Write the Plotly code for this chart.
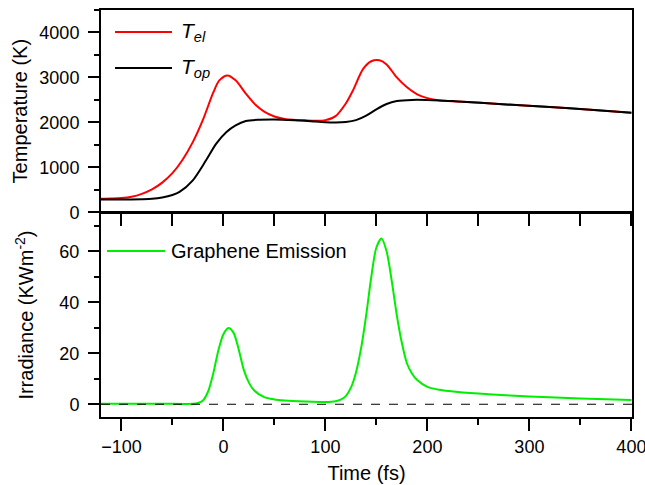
import plotly.graph_objects as go
from plotly.subplots import make_subplots

# ---- data ----
t_el = [-120, -110, -100, -90, -80, -70, -60, -50, -40, -30, -20, -10, -4, 4, 12, 22, 32,
        40, 50, 60, 70, 80, 90, 100, 110, 120, 127, 137, 145, 153, 160, 170, 180, 190, 200,
        212, 230, 270, 320, 360, 400]
T_el = [300, 305, 315, 345, 410, 510, 660, 870, 1170, 1560, 2060, 2660, 2933, 3045, 2935,
        2640, 2380, 2240, 2130, 2075, 2055, 2045, 2037, 2050, 2140, 2420, 2710, 3190, 3360,
        3380, 3290, 3000, 2780, 2625, 2540, 2489, 2465, 2410, 2340, 2280, 2215]

t_op = [-120, -100, -80, -70, -60, -50, -43, -30, -17, -7, 3, 12, 22, 35, 50, 70, 80, 90,
        100, 110, 120, 130, 140, 150, 160, 170, 185, 212, 230, 270, 320, 360, 400]
T_op = [282, 283, 290, 300, 330, 385, 452, 711, 1156, 1526, 1785, 1933, 2030, 2059, 2065,
        2050, 2038, 2020, 2005, 2000, 2010, 2050, 2150, 2290, 2410, 2475, 2500, 2489, 2465,
        2410, 2340, 2280, 2215]

t_em = [-120, -60, -30, -25, -20, -15, -10, -5, 0, 5, 10, 15, 20, 25, 30, 40, 50, 60, 80,
        100, 110, 115, 120, 125, 130, 135, 140, 145, 150, 155, 160, 165, 170, 175, 180, 185,
        190, 200, 210, 230, 260, 300, 350, 400]
G_em = [0.2, 0.2, 0.2, 0.5, 1.5, 5.0, 12.0, 21.0, 27.5, 29.9, 28.0, 21.5, 13.5, 8.5, 5.5,
        2.8, 1.9, 1.5, 1.1, 0.9, 1.2, 1.8, 3.2, 6.5, 12.5, 22.0, 35.0, 50.0, 61.5, 65.0, 60.0,
        48.5, 35.0, 24.0, 16.0, 12.0, 9.5, 6.8, 5.8, 4.8, 3.9, 3.0, 2.3, 1.7]

x_ticks = [-100, 0, 100, 200, 300, 400]
temp_ticks = [0, 1000, 2000, 3000, 4000]
irr_ticks = [0, 20, 40, 60]

FONT = "Arial, Liberation Sans, Helvetica, sans-serif"

fig = make_subplots(rows=2, cols=1, shared_xaxes=True, vertical_spacing=0.0)

fig.add_trace(go.Scatter(x=t_el, y=T_el, mode="lines", name="T_el",
                         line=dict(color="#ff0000", width=2, shape="spline", smoothing=0.8)),
              row=1, col=1)
fig.add_trace(go.Scatter(x=t_op, y=T_op, mode="lines", name="T_op",
                         line=dict(color="#000000", width=2, shape="spline", smoothing=0.8)),
              row=1, col=1)
fig.add_trace(go.Scatter(x=t_em, y=G_em, mode="lines", name="Graphene Emission",
                         line=dict(color="#00ee00", width=2, shape="spline", smoothing=0.8)),
              row=2, col=1)

axis_common = dict(showline=True, linecolor="black", linewidth=2, mirror=True,
                   showgrid=False, zeroline=False, ticks="outside", tickcolor="black",
                   tickwidth=2, automargin=False, ticklabeloverflow="allow",
                   tickfont=dict(family=FONT, size=18, color="black"))

fig.update_xaxes(**axis_common, range=[-120, 400.6], tickvals=x_ticks)
fig.update_xaxes(row=1, col=1, showticklabels=False, ticklen=12,
                 minor=dict(dtick=50, ticks="outside", ticklen=12, tickwidth=2, tickcolor="black"))
fig.update_xaxes(row=2, col=1, ticklen=12,
                 minor=dict(dtick=50, ticks="outside", ticklen=6, tickwidth=2, tickcolor="black"),
                 title=dict(text="Time (fs)", font=dict(family=FONT, size=20, color="black"),
                            standoff=10))

fig.update_yaxes(**axis_common)
fig.update_yaxes(row=1, col=1, range=[0, 4500], tickvals=temp_ticks, ticklen=11,
                 ticklabelstandoff=5,
                 minor=dict(dtick=500, ticks="outside", ticklen=5, tickwidth=2, tickcolor="black"),
                 domain=[0.503, 1.0],
                 title=dict(text="Temperature (K)", font=dict(family=FONT, size=20, color="black"),
                            standoff=6))
fig.update_yaxes(row=2, col=1, range=[-5, 75], tickvals=irr_ticks, ticklen=11,
                 ticklabelstandoff=5,
                 minor=dict(dtick=10, ticks="outside", ticklen=5, tickwidth=2, tickcolor="black"),
                 domain=[0.0, 0.501],
                 title=dict(text="Irradiance (KWm<sup>-2</sup>)",
                            font=dict(family=FONT, size=20, color="black"), standoff=20))

# dashed zero line in lower panel
fig.add_shape(type="line", xref="x2 domain", yref="y2", x0=0, x1=1, y0=0, y1=0,
              line=dict(color="black", width=1, dash="dash"))

# legend samples (drawn as shapes + text)
leg = [
    (0.0264, 0.1337, 0.946, "#ff0000", "<i>T</i><sub><i>el</i></sub>", 0.147, 21),
    (0.0264, 0.1337, 0.8575, "#000000", "<i>T</i><sub><i>op</i></sub>", 0.147, 21),
    (0.0113, 0.1205, 0.408, "#00ee00", "Graphene Emission", 0.128, 20),
]
for x0, x1, y, col, txt, tx, fs in leg:
    fig.add_shape(type="line", xref="paper", yref="paper", x0=x0, x1=x1, y0=y, y1=y,
                  line=dict(color=col, width=2))
    fig.add_annotation(xref="paper", yref="paper", x=tx, y=y, text=txt, showarrow=False,
                       xanchor="left", yanchor="middle",
                       font=dict(family=FONT, size=fs, color="black"))

fig.update_layout(width=645, height=485, showlegend=False,
                  margin=dict(l=101, r=13, t=10, b=68),
                  plot_bgcolor="white", paper_bgcolor="white")

fig.write_html("out.html", config={"displayModeBar": False},
               post_script="document.body.style.margin='0';document.body.style.padding='0';")
